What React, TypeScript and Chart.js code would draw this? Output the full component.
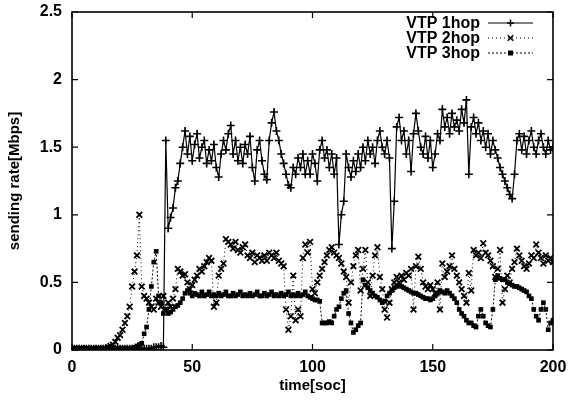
import React, { useEffect, useRef } from 'react';
import { Chart, registerables } from 'chart.js';

Chart.register(...registerables);

// time axis: one sample per second starting at 0
const TIME_START = 0;
const TIME_STEP = 1;

const HOP1 = [
  0.01, 0.01, 0.01, 0.01, 0.01, 0.01, 0.01, 0.01, 0.01, 0.01,
  0.01, 0.01, 0.01, 0.01, 0.01, 0.01, 0.01, 0.01, 0.01, 0.01,
  0.01, 0.01, 0.01, 0.01, 0.01, 0.01, 0.01, 0.01, 0.01, 0.01,
  0.01, 0.01, 0.01, 0.01, 0.02, 0.02, 0.02, 0.03, 0.02, 1.55,
  0.9, 0.98, 1.05, 1.2, 1.25, 1.38, 1.5, 1.62, 1.45, 1.58,
  1.4, 1.52, 1.6, 1.42, 1.5, 1.55, 1.38, 1.48, 1.4, 1.52,
  1.35, 1.28, 1.45, 1.55, 1.48, 1.6, 1.66, 1.45, 1.55, 1.4,
  1.5, 1.38, 1.52, 1.45, 1.58, 1.35, 1.25, 1.48, 1.55, 1.4,
  1.3, 1.26, 1.55, 1.68, 1.76, 1.62, 1.55, 1.45, 1.38, 1.3,
  1.22, 1.2, 1.35, 1.3, 1.42, 1.35, 1.45, 1.3, 1.4, 1.3,
  1.45, 1.38, 1.25, 1.48, 1.55, 1.42, 1.48, 1.35, 1.45, 1.3,
  1.42, 0.78, 1.0, 1.1, 1.45, 1.35, 1.28, 1.4, 1.32, 1.45,
  1.35, 1.5, 1.4, 1.55, 1.45, 1.5, 1.38, 1.55, 1.62, 1.5,
  1.45, 1.55, 1.42, 0.75, 1.1, 1.65, 1.72, 1.55, 1.62, 1.45,
  1.55, 1.32, 1.6, 1.75, 1.62, 1.5, 1.45, 1.58, 1.42, 1.55,
  1.35, 1.45, 1.6, 1.55, 1.78, 1.65, 1.72, 1.6, 1.75, 1.65,
  1.7, 1.62, 1.78, 1.68, 1.85, 1.3, 1.65, 1.72, 1.6, 1.68,
  1.55, 1.62, 1.5, 1.6, 1.45, 1.55, 1.48, 1.42, 1.35, 1.3,
  1.25, 1.2, 1.15, 1.12, 1.3, 1.55, 1.6, 1.48, 1.58, 1.45,
  1.55, 1.62, 1.5, 1.45, 1.55, 1.6, 1.5, 1.45, 1.55, 1.48, 1.5,
];

const HOP2 = [
  0.01, 0.01, 0.01, 0.01, 0.01, 0.01, 0.01, 0.01, 0.01, 0.01,
  0.01, 0.01, 0.01, 0.01, 0.01, 0.02, 0.03, 0.04, 0.06, 0.09,
  0.11, 0.15, 0.2, 0.25, 0.32, 0.47, 0.58, 0.7, 1.0, 0.47,
  0.4, 0.38, 0.35, 0.32, 0.3, 0.38, 0.35, 0.32, 0.4, 0.3,
  0.35, 0.32, 0.38, 0.45, 0.6, 0.58, 0.55, 0.56, 0.5, 0.45,
  0.48, 0.52, 0.55, 0.6, 0.58, 0.62, 0.65, 0.68, 0.66, 0.32,
  0.35, 0.55, 0.6, 0.64, 0.82, 0.8, 0.78, 0.75, 0.8, 0.74,
  0.72, 0.76, 0.78, 0.7, 0.68, 0.72, 0.65, 0.7, 0.68, 0.66,
  0.7, 0.66, 0.72, 0.7, 0.68, 0.72, 0.66, 0.64, 0.62, 0.3,
  0.15, 0.25, 0.55, 0.22, 0.3, 0.25, 0.68, 0.78, 0.72, 0.8,
  0.45, 0.42, 0.5, 0.55, 0.6, 0.65, 0.7, 0.74, 0.76, 0.72,
  0.7, 0.68, 0.64, 0.58, 0.54, 0.35, 0.5, 0.62, 0.7, 0.74,
  0.44, 0.6, 0.74, 0.5, 0.4, 0.55, 0.7, 0.76, 0.54, 0.45,
  0.3, 0.24, 0.35, 0.45, 0.5, 0.54, 0.5, 0.55, 0.52, 0.57,
  0.55, 0.6, 0.3, 0.62, 0.69, 0.6, 0.5, 0.47, 0.45, 0.48,
  0.45, 0.42, 0.5, 0.3, 0.64, 0.54, 0.58, 0.62, 0.7, 0.6,
  0.55, 0.5, 0.45, 0.4, 0.35, 0.57, 0.44, 0.74, 0.7, 0.72,
  0.68, 0.79, 0.72, 0.7, 0.66, 0.62, 0.54, 0.6, 0.74, 0.35,
  0.45, 0.55, 0.5, 0.6, 0.65, 0.75, 0.7, 0.66, 0.62, 0.6,
  0.64, 0.7, 0.68, 0.78, 0.72, 0.68, 0.64, 0.7, 0.66, 0.68, 0.65,
];

const HOP3 = [
  0.01, 0.01, 0.01, 0.01, 0.01, 0.01, 0.01, 0.01, 0.01, 0.01,
  0.01, 0.01, 0.01, 0.01, 0.01, 0.01, 0.01, 0.01, 0.01, 0.01,
  0.01, 0.01, 0.01, 0.01, 0.01, 0.01, 0.02, 0.03, 0.04, 0.05,
  0.12, 0.17, 0.3, 0.47, 0.65, 0.73, 0.4, 0.35, 0.27, 0.3,
  0.27, 0.28, 0.3, 0.32, 0.33, 0.35, 0.38, 0.42, 0.44, 0.42,
  0.4, 0.42, 0.41, 0.4, 0.43, 0.4, 0.41, 0.43, 0.4, 0.41,
  0.4, 0.42, 0.4, 0.41, 0.43, 0.4, 0.4, 0.42, 0.4, 0.41,
  0.43, 0.4, 0.41, 0.4, 0.42, 0.4, 0.41, 0.43, 0.4, 0.4,
  0.42, 0.4, 0.41, 0.43, 0.4, 0.41, 0.4, 0.42, 0.4, 0.41,
  0.43, 0.4, 0.41, 0.4, 0.42, 0.4, 0.41, 0.43, 0.4, 0.39,
  0.38, 0.37, 0.37, 0.36, 0.2, 0.2, 0.2, 0.21, 0.2, 0.25,
  0.3, 0.32, 0.38, 0.42, 0.44, 0.27, 0.2, 0.13, 0.15, 0.18,
  0.2, 0.52, 0.48, 0.46, 0.44, 0.42, 0.4, 0.39, 0.37, 0.35,
  0.36, 0.4, 0.42, 0.44, 0.46, 0.47, 0.48, 0.47, 0.46, 0.45,
  0.44, 0.43, 0.42, 0.42, 0.41, 0.4, 0.39, 0.38, 0.38, 0.37,
  0.38, 0.4, 0.42, 0.44, 0.43, 0.42, 0.44, 0.42, 0.4, 0.38,
  0.35, 0.3, 0.27, 0.25, 0.22, 0.2, 0.2, 0.18, 0.17, 0.25,
  0.3, 0.25, 0.2, 0.18, 0.17, 0.3, 0.52, 0.55, 0.53, 0.52,
  0.52, 0.5, 0.49, 0.48, 0.47, 0.47, 0.46, 0.45, 0.44, 0.43,
  0.4, 0.38, 0.3, 0.25, 0.22, 0.3, 0.35, 0.3, 0.15, 0.2, 0.22,
];

const SERIES_LABELS = ['VTP 1hop', 'VTP 2hop', 'VTP 3hop'];
const X_TICKS = [0, 50, 100, 150, 200];
const Y_TICKS = [0, 0.5, 1, 1.5, 2, 2.5];
const X_TITLE = 'time[soc]';
const Y_TITLE = 'sending rate[Mbps]';

const FONT = "'Liberation Sans', Arial, sans-serif";

function toPoints(values: number[]) {
  return values.map((v, i) => ({ x: TIME_START + i * TIME_STEP, y: v }));
}

function drawMarker(ctx: CanvasRenderingContext2D, style: string, x: number, y: number, r: number) {
  ctx.save();
  ctx.setLineDash([]);
  ctx.strokeStyle = '#000';
  ctx.fillStyle = '#000';
  ctx.lineWidth = 1.5;
  ctx.beginPath();
  if (style === 'cross') {
    ctx.moveTo(x - r, y); ctx.lineTo(x + r, y);
    ctx.moveTo(x, y - r); ctx.lineTo(x, y + r);
    ctx.stroke();
  } else if (style === 'crossRot') {
    ctx.moveTo(x - r * 0.8, y - r * 0.8); ctx.lineTo(x + r * 0.8, y + r * 0.8);
    ctx.moveTo(x - r * 0.8, y + r * 0.8); ctx.lineTo(x + r * 0.8, y - r * 0.8);
    ctx.stroke();
  } else {
    ctx.fillRect(x - r, y - r, 2 * r, 2 * r);
  }
  ctx.restore();
}

const framePlugin = {
  id: 'gnuplotFrame',
  afterDraw(chart: any) {
    const { ctx, chartArea: a, scales } = chart;
    const xs = scales.x;
    const ys = scales.y;
    ctx.save();
    ctx.strokeStyle = '#000';
    ctx.lineWidth = 1.6;
    ctx.setLineDash([]);
    ctx.strokeRect(a.left, a.top, a.right - a.left, a.bottom - a.top);
    ctx.lineWidth = 1.2;
    ctx.beginPath();
    const tl = 6;
    X_TICKS.forEach((t) => {
      const px = xs.getPixelForValue(t);
      ctx.moveTo(px, a.bottom); ctx.lineTo(px, a.bottom - tl);
      ctx.moveTo(px, a.top); ctx.lineTo(px, a.top + tl);
    });
    Y_TICKS.forEach((t) => {
      const py = ys.getPixelForValue(t);
      ctx.moveTo(a.left, py); ctx.lineTo(a.left + tl, py);
      ctx.moveTo(a.right, py); ctx.lineTo(a.right - tl, py);
    });
    ctx.stroke();

    // legend (gnuplot style, top right inside the frame)
    const rows = [a.top + 11, a.top + 26, a.top + 41];
    const textRight = 480;
    const lineL = 488;
    const lineR = 533;
    ctx.font = `bold 16px ${FONT}`;
    ctx.textAlign = 'right';
    ctx.textBaseline = 'middle';
    ctx.fillStyle = '#000';
    chart.data.datasets.forEach((ds: any, i: number) => {
      const y = rows[i];
      ctx.fillText(SERIES_LABELS[i], textRight, y + 1);
      ctx.save();
      ctx.strokeStyle = '#000';
      ctx.lineWidth = ds.borderWidth;
      ctx.setLineDash(ds.borderDash || []);
      ctx.beginPath();
      ctx.moveTo(lineL, y);
      ctx.lineTo(lineR, y);
      ctx.stroke();
      ctx.restore();
      drawMarker(ctx, ds.pointStyle, (lineL + lineR) / 2, y, ds.pointStyle === 'rect' ? 2.5 : 3.5);
    });
    ctx.restore();
  },
};

export default function App() {
  const ref = useRef<HTMLCanvasElement | null>(null);

  useEffect(() => {
    document.body.style.margin = '0';
    const canvas = ref.current;
    if (!canvas) return;
    const chart = new Chart(canvas, {
      type: 'line',
      data: {
        datasets: [
          {
            label: SERIES_LABELS[0],
            data: toPoints(HOP1),
            borderColor: '#000',
            backgroundColor: '#000',
            borderWidth: 1.2,
            pointStyle: 'cross',
            pointRadius: 4,
            pointBorderWidth: 1.6,
            pointBorderColor: '#000',
            tension: 0,
          },
          {
            label: SERIES_LABELS[1],
            data: toPoints(HOP2),
            borderColor: '#000',
            backgroundColor: '#000',
            borderWidth: 1,
            borderDash: [1, 3],
            pointStyle: 'crossRot',
            pointRadius: 4,
            pointBorderWidth: 1.8,
            pointBorderColor: '#000',
            tension: 0,
          },
          {
            label: SERIES_LABELS[2],
            data: toPoints(HOP3),
            borderColor: '#000',
            backgroundColor: '#000',
            borderWidth: 1,
            borderDash: [2, 2],
            pointStyle: 'rect',
            pointRadius: 3.3,
            pointBorderWidth: 0,
            pointBackgroundColor: '#000',
            tension: 0,
          },
        ],
      },
      options: {
        responsive: false,
        animation: false,
        layout: { padding: { left: 0, right: 28, top: 12, bottom: 0 } },
        plugins: {
          legend: { display: false },
          tooltip: { enabled: false },
        },
        scales: {
          x: {
            type: 'linear',
            min: 0,
            max: 200,
            afterBuildTicks: (s: any) => { s.ticks = X_TICKS.map((v) => ({ value: v })); },
            afterFit: (s: any) => { s.height = 54; s.paddingLeft = 0; s.paddingRight = 0; },
            grid: { display: false, drawTicks: false },
            border: { display: false },
            ticks: {
              color: '#000',
              padding: 8,
              maxRotation: 0,
              font: { family: FONT, size: 16, weight: 'bold' },
            },
            title: {
              display: true,
              text: X_TITLE,
              color: '#000',
              padding: { top: 0, bottom: 9 },
              font: { family: FONT, size: 15, weight: 'bold' },
            },
          },
          y: {
            min: 0,
            max: 2.5,
            afterBuildTicks: (s: any) => { s.ticks = Y_TICKS.map((v) => ({ value: v })); },
            afterFit: (s: any) => { s.width = 72; s.paddingTop = 0; s.paddingBottom = 0; },
            grid: { display: false, drawTicks: false },
            border: { display: false },
            ticks: {
              color: '#000',
              padding: 10,
              font: { family: FONT, size: 16, weight: 'bold' },
              callback: (v: any) => String(v),
            },
            title: {
              display: true,
              text: Y_TITLE,
              color: '#000',
              padding: { top: 6, bottom: 0 },
              font: { family: FONT, size: 15, weight: 'bold' },
            },
          },
        },
      },
      plugins: [framePlugin],
    } as any);
    return () => chart.destroy();
  }, []);

  return <canvas ref={ref} width={581} height={404} style={{ display: 'block' }} />;
}
